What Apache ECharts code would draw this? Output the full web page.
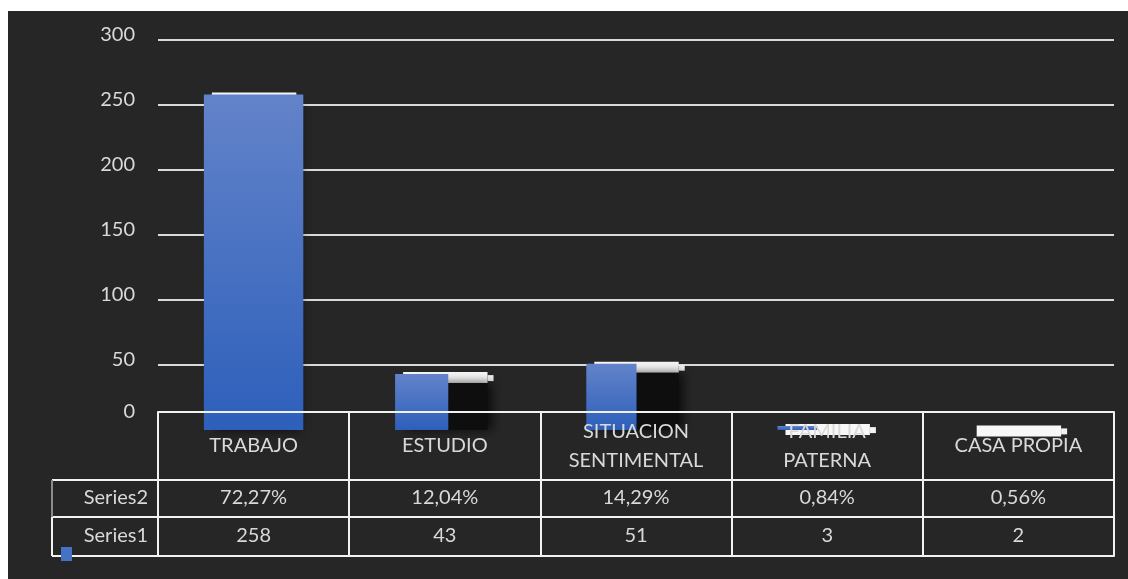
<!DOCTYPE html>
<html>
<head>
<meta charset="utf-8">
<script src="https://cdn.jsdelivr.net/npm/echarts@6/dist/echarts.min.js"></script>
<style>
html,body{margin:0;padding:0;background:#fff;}
#chart{position:absolute;left:8px;top:11px;width:1120px;height:568px;}
</style>
</head>
<body>
<div id="chart"></div>
<script>
// datos del grafico
const categories = ['TRABAJO', 'ESTUDIO', 'SITUACION\nSENTIMENTAL', 'FAMILIA\nPATERNA', 'CASA PROPIA'];
const series1 = [258, 43, 51, 3, 2];
const series2 = ['72,27%', '12,04%', '14,29%', '0,84%', '0,56%'];
const rowNames = ['Series2', 'Series1'];

// parte azul visible de cada barra (el resto queda en sombra negra)
const blueShare = [1, 0.535, 0.505, 0.4, 0];

const txt = '#d9d9d9';
const line = '#f2f2f2';
const font = 'Lato';

let chart = echarts.init(document.getElementById('chart'), null, { renderer: 'canvas' });

// eje de una fila de la tabla
function rowAxis(data, offset, margin, showLabel) {
  return {
    type: 'category',
    data: data,
    position: 'bottom',
    offset: offset,
    z: 5,
    axisLine: { show: true, lineStyle: { color: line, width: 2 } },
    axisTick: { show: false },
    splitLine: { show: false },
    axisLabel: {
      show: showLabel,
      margin: margin,
      verticalAlign: 'middle',
      color: txt,
      fontFamily: font,
      fontSize: 20,
      interval: 0
    }
  };
}

function renderBar(params, api) {
  const i = params.dataIndex;
  const top = api.coord([api.value(0), api.value(1)]);
  const base = api.coord([api.value(0), 0]);
  const w = api.size([1, 0])[0] * 0.52;
  const left = top[0] - w / 2;
  const h = base[1] - top[1];
  const blue = new echarts.graphic.LinearGradient(0, 0, 0, 1, [
    { offset: 0, color: '#6383c9' },
    { offset: 1, color: '#2d5fbb' }
  ]);
  return {
    type: 'group',
    children: [
      { type: 'rect', shape: { x: left + 8, y: top[1] - 2, width: w - 15, height: 11 }, style: { fill: '#f7f7f7' } },
      { type: 'rect', shape: { x: left + w - 7, y: top[1] + 1, width: 6, height: 6 }, style: { fill: '#f2f2f2' } },
      {
        type: 'rect',
        shape: { x: left + 8, y: top[1] + 9, width: w - 15, height: Math.max(h - 9, 0) },
        style: { fill: '#0e0e0e', shadowBlur: 10, shadowColor: 'rgba(0,0,0,0.7)', shadowOffsetX: 4 }
      },
      { type: 'rect', shape: { x: left, y: top[1], width: w * blueShare[i], height: h }, style: { fill: blue } }
    ]
  };
}

let option = {
  backgroundColor: '#262626',
  animation: false,
  grid: { left: 150, right: 14, top: 29, height: 390 },
  legend: {
    data: ['Series1'],
    left: 53,
    top: 536,
    padding: 0,
    icon: 'rect',
    itemWidth: 11,
    itemHeight: 14,
    itemGap: 0,
    formatter: function () { return ''; },
    selectedMode: false
  },
  xAxis: [
    {
      type: 'category',
      data: categories,
      z: 5,
      axisLine: { show: false },
      axisTick: { show: false },
      axisLabel: {
        interval: 0,
        margin: 16,
        verticalAlign: 'middle',
        color: txt,
        fontFamily: font,
        fontSize: 20,
        lineHeight: 29
      }
    },
    // marco de la tabla: linea superior y separadores verticales
    {
      type: 'category',
      data: categories,
      position: 'bottom',
      offset: -18,
      z: 5,
      axisLine: { show: true, lineStyle: { color: line, width: 2 } },
      axisTick: { show: true, inside: false, length: 144, lineStyle: { color: line, width: 2 } },
      axisLabel: { show: false }
    },
    rowAxis(series2, 50, 18, true),
    rowAxis(series1.map(String), 87, 19, true),
    rowAxis(categories, 126, 0, false)
  ],
  yAxis: {
    type: 'value',
    min: 0,
    max: 300,
    interval: 50,
    axisLine: { show: false },
    axisTick: { show: false },
    splitLine: { show: true, showMinLine: false, lineStyle: { color: '#d9d9d9', width: 2 } },
    axisLabel: {
      margin: 23,
      formatter: function (v) { return v === 0 ? '{z|0}' : '{n|' + v + '}'; },
      rich: {
        n: { color: txt, fontFamily: font, fontSize: 20, padding: [0, 0, 10, 0] },
        z: { color: txt, fontFamily: font, fontSize: 20, padding: [0, 0, 36, 0] }
      }
    }
  },
  graphic: [
    { type: 'line', shape: { x1: 44, y1: 469, x2: 150, y2: 469 }, style: { stroke: line, lineWidth: 2 } },
    { type: 'line', shape: { x1: 44, y1: 506, x2: 150, y2: 506 }, style: { stroke: line, lineWidth: 2 } },
    { type: 'line', shape: { x1: 44, y1: 545, x2: 150, y2: 545 }, style: { stroke: line, lineWidth: 2 } },
    { type: 'line', shape: { x1: 44, y1: 469, x2: 44, y2: 506 }, style: { stroke: '#8c8c8c', lineWidth: 2 } },
    { type: 'line', shape: { x1: 44, y1: 506, x2: 44, y2: 545 }, style: { stroke: line, lineWidth: 2 } },
    { type: 'text', x: 140, y: 487, style: { text: rowNames[0], fill: txt, font: '20px Lato', textAlign: 'right', textVerticalAlign: 'middle' } },
    { type: 'text', x: 140, y: 525, style: { text: rowNames[1], fill: txt, font: '20px Lato', textAlign: 'right', textVerticalAlign: 'middle' } }
  ],
  series: [
    {
      name: 'Series1',
      type: 'custom',
      z: 2,
      itemStyle: { color: '#4472c4' },
      renderItem: renderBar,
      data: series1.map(function (v, i) { return [i, v]; })
    }
  ]
};

chart.setOption(option);
</script>
</body>
</html>
